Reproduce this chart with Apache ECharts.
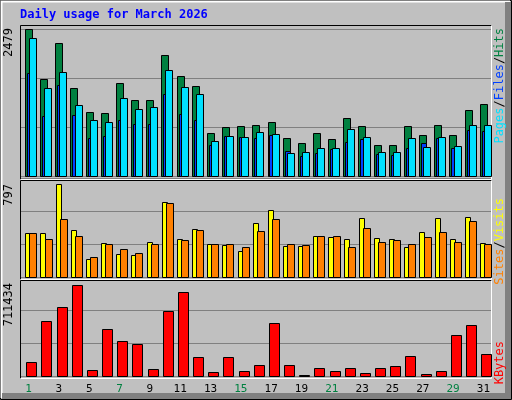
<!DOCTYPE html>
<html>
<head>
<meta charset="utf-8"/>
<title>Daily usage for March 2026</title>
<script src="https://cdn.jsdelivr.net/npm/echarts@6/dist/echarts.min.js"></script>
<style>
    html, body { margin: 0; padding: 0; background: #c0c0c0; }
    #chart { width: 512px; height: 400px; }
</style>
<script>
    // values
    var days = ['1','2','3','4','5','6','7','8','9','10','11','12','13','14','15','16',
                '17','18','19','20','21','22','23','24','25','26','27','28','29','30','31'];
    var weekends = ['1','7','8','14','15','21','22','28','29'];
    var hits  = [2479,1636,2243,1484,1079,1062,1568,1282,1282,2040,1686,1518,725,826,843,860,
                 911,641,556,725,624,978,843,523,523,843,691,860,691,1113,1214];
    var files = [2327,1484,1754,1197,944,911,1315,1130,1164,1788,1501,1383,590,675,658,742,
                 708,388,405,472,472,793,658,405,405,641,489,658,506,860,860];
    var pages = [1737,1012,1535,1029,641,675,944,877,877,1383,1046,944,523,675,658,641,
                 691,421,337,388,455,573,624,371,354,472,556,641,472,776,759];
    var visits = [375,375,797,400,152,289,195,186,297,640,323,409,280,272,220,460,
                  572,263,263,349,340,323,503,332,323,255,383,503,323,512,289];
    var sites  = [375,323,494,349,169,280,237,203,280,632,315,400,280,280,255,392,
                  494,280,272,349,349,255,417,297,315,280,340,383,297,477,280];
    var kbytes = [112000,431000,540000,711434,50000,369000,276000,252000,58000,509000,657000,151000,34000,151000,42000,89000,
                  416000,89000,10000,65000,42000,65000,26000,65000,81000,159000,19000,42000,322000,400000,174000];
    var maxLabels = ['2479', '797', '711434'];
</script>
</head>
<body>
<div id="chart"></div>
<script>
    var chart = echarts.init(document.getElementById('chart'));
    var mono = 'DejaVu Sans Mono';

    // bars for one panel: each entry [valueArrayIndex, leftOffset, width, colour]
    function barsItem(spec) {
        return function (params, api) {
            var i = api.value(0);
            var base = api.coord([i, 0]);
            var w = api.size([1, 0])[0];
            var children = [];
            for (var k = 0; k < spec.length; k++) {
                var top = api.coord([i, api.value(k + 1)]);
                children.push({
                    type: 'rect',
                    shape: { x: Math.round(base[0] + spec[k][0] * w) + 0.5, y: Math.round(top[1]) + 0.5,
                             width: spec[k][1], height: Math.round(base[1] - top[1]) },
                    style: { fill: spec[k][2], stroke: '#000', lineWidth: 1 }
                });
            }
            return { type: 'group', children: children };
        };
    }

    function rows(a, b, c) {
        var out = [];
        for (var i = 0; i < days.length; i++) {
            var r = [i, a[i]];
            if (b) r.push(b[i]);
            if (c) r.push(c[i]);
            out.push(r);
        }
        return out;
    }

    var grids = [
        { left: 21, right: 21, top: 29, height: 147 },
        { left: 21, right: 21, top: 178, height: 99 },
        { left: 21, right: 21, top: 277, height: 99 }
    ];
    var maxes = [2479, 848, 770600];

    var xAxes = [], yAxes = [];
    for (var g = 0; g < 3; g++) {
        xAxes.push({
            type: 'category', gridIndex: g, data: days,
            axisLine: { show: false }, axisTick: { show: false },
            axisLabel: {
                show: g === 2, margin: 8, fontFamily: mono, fontSize: 11,
                color: function (v) { return weekends.indexOf(v) >= 0 ? '#008040' : '#000'; }
            }
        });
        yAxes.push({
            type: 'value', gridIndex: g, min: 0, max: maxes[g], interval: maxes[g] / 3,
            axisLabel: { show: false }, axisLine: { show: false }, axisTick: { show: false },
            splitLine: { lineStyle: { color: '#808080', width: 1 } }
        });
    }

    function panelFrame(y0, y1) {
        return [
            { type: 'line', shape: { x1: 20.5, y1: y0 + 0.5, x2: 491.5, y2: y0 + 0.5 }, style: { stroke: '#000' } },
            { type: 'line', shape: { x1: 20.5, y1: y0 + 0.5, x2: 20.5, y2: y1 + 0.5 }, style: { stroke: '#000' } },
            { type: 'line', shape: { x1: 20.5, y1: y1 + 0.5, x2: 491.5, y2: y1 + 0.5 }, style: { stroke: '#fff', lineWidth: 1 } },
            { type: 'line', shape: { x1: 491.5, y1: y0 + 0.5, x2: 491.5, y2: y1 + 0.5 }, style: { stroke: '#fff' } }
        ];
    }

    function sideLabel(y, parts) {
        return {
            type: 'text', x: 500, y: y, rotation: Math.PI / 2,
            style: {
                text: parts.map(function (p) { return '{' + p[1] + '|' + p[0] + '}'; }).join(''),
                rich: {
                    g: { fill: '#008040', fontFamily: mono, fontSize: 12 },
                    b: { fill: '#0040ff', fontFamily: mono, fontSize: 12 },
                    c: { fill: '#00e0ff', fontFamily: mono, fontSize: 12 },
                    k: { fill: '#000', fontFamily: mono, fontSize: 12 },
                    y: { fill: '#ffff00', fontFamily: mono, fontSize: 12 },
                    o: { fill: '#ff8000', fontFamily: mono, fontSize: 12 },
                    r: { fill: '#ff0000', fontFamily: mono, fontSize: 12 }
                },
                align: 'right', verticalAlign: 'middle'
            }
        };
    }

    var graphics = [
        { type: 'rect', shape: { x: 0.5, y: 0.5, width: 511, height: 399 }, style: { fill: 'none', stroke: '#000' } },
        { type: 'polyline', shape: { points: [[1.5, 398], [1.5, 1.5], [510, 1.5]] }, style: { stroke: '#fff', lineWidth: 2, fill: 'none' } },
        { type: 'rect', shape: { x: 505, y: 2, width: 6, height: 397 }, style: { fill: '#808080' } },
        { type: 'rect', shape: { x: 2, y: 393, width: 509, height: 6 }, style: { fill: '#808080' } },
        { type: 'text', x: 20, y: 9, style: { text: 'Daily usage for March 2026', fill: '#0000ff',
            fontFamily: mono, fontWeight: 'bold', fontSize: 12 } },
        { type: 'text', x: 9, y: 28, rotation: Math.PI / 2, style: { text: maxLabels[0], fill: '#000', fontFamily: mono, fontSize: 12, align: 'right', verticalAlign: 'middle' } },
        { type: 'text', x: 9, y: 184, rotation: Math.PI / 2, style: { text: maxLabels[1], fill: '#000', fontFamily: mono, fontSize: 12, align: 'right', verticalAlign: 'middle' } },
        { type: 'text', x: 9, y: 283, rotation: Math.PI / 2, style: { text: maxLabels[2], fill: '#000', fontFamily: mono, fontSize: 12, align: 'right', verticalAlign: 'middle' } },
        sideLabel(28, [['Pages', 'c'], ['/', 'k'], ['Files', 'b'], ['/', 'k'], ['Hits', 'g']]),
        sideLabel(198, [['Sites', 'o'], ['/', 'k'], ['Visits', 'y']]),
        sideLabel(341, [['KBytes', 'r']])
    ].concat(panelFrame(25, 179), panelFrame(180, 279), panelFrame(280, 378));

    chart.setOption({
        animation: false,
        backgroundColor: '#c0c0c0',
        grid: grids,
        xAxis: xAxes,
        yAxis: yAxes,
        series: [
            { type: 'custom', xAxisIndex: 0, yAxisIndex: 0, data: rows(hits, pages, files),
              renderItem: barsItem([[-0.24, 7, '#008040'], [-0.11, 5, '#0040ff'], [0.03, 7, '#00e0ff']]) },
            { type: 'custom', xAxisIndex: 1, yAxisIndex: 1, data: rows(visits, sites),
              renderItem: barsItem([[-0.22, 5, '#ffff00'], [0.05, 7, '#ff8000']]) },
            { type: 'custom', xAxisIndex: 2, yAxisIndex: 2, data: rows(kbytes),
              renderItem: barsItem([[-0.15, 10, '#ff0000']]) }
        ],
        graphic: graphics
    });
</script>
</body>
</html>
